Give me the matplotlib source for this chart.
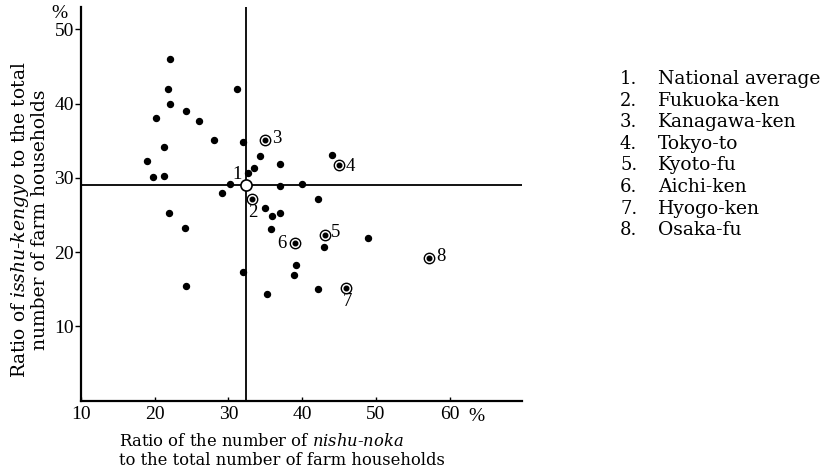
import matplotlib
matplotlib.use("Agg")
import matplotlib.pyplot as plt

plt.rcParams['font.family'] = ['DejaVu Serif']
plt.rcParams['mathtext.fontset'] = 'dejavuserif'

# unlabelled prefectures (nishu-noka %, isshu-kengyo %)
dot_x = [22.1, 21.8, 22.1, 20.2, 24.2, 26.0, 31.1, 28.0, 32.0, 21.3, 19.0, 19.8,
         21.2, 30.2, 29.1, 32.7, 33.4, 34.3, 37.0, 22.0, 44.1, 37.0, 40.0, 42.2,
         34.9, 35.9, 37.0, 35.7, 43.0, 48.9, 39.1, 38.9, 31.9, 42.1, 35.2, 24.1, 24.2]
dot_y = [46.0, 41.9, 39.9, 38.0, 39.0, 37.7, 41.9, 35.1, 34.8, 34.2, 32.2, 30.1,
         30.2, 29.2, 27.9, 30.6, 31.3, 32.9, 31.9, 25.3, 33.0, 28.9, 29.2, 27.1,
         25.9, 24.8, 25.2, 23.1, 20.7, 21.9, 18.3, 16.9, 17.3, 15.0, 14.3, 23.3, 15.4]

# numbered points
num_x = [32.35, 33.25, 35.0, 45.0, 43.05, 39.0, 46.0, 57.15]
num_y = [29.0, 27.2, 35.05, 31.75, 22.3, 21.2, 15.15, 19.25]
num_labels = ['1', '2', '3', '4', '5', '6', '7', '8']
label_offsets = [(-6, 8), (0, -10), (8, 1), (8, -1), (8, 2), (-9, 0), (1, -10), (9, 1)]
names = ['National average', 'Fukuoka-ken', 'Kanagawa-ken', 'Tokyo-to',
         'Kyoto-fu', 'Aichi-ken', 'Hyogo-ken', 'Osaka-fu']

avg_x = num_x[0]
avg_y = num_y[0]

digit_font = 'Liberation Serif'

fig = plt.figure(figsize=(8.31, 4.74), dpi=100)
ax = fig.add_axes([81 / 831, 1 - 400.5 / 474, 441 / 831, 393.5 / 474])
ax.set_xlim(10, 69.8)
ax.set_ylim(0, 53)

for s in ['top', 'right']:
    ax.spines[s].set_visible(False)
for s in ['left', 'bottom']:
    ax.spines[s].set_linewidth(1.6)

ax.axvline(avg_x, color='black', lw=1.3, zorder=1)
ax.axhline(avg_y, color='black', lw=1.3, zorder=1)

ax.plot(dot_x, dot_y, 'o', color='black', ms=4.3, zorder=3)

# ringed points
ax.plot(num_x[1:], num_y[1:], 'o', mfc='white', mec='black', mew=1.0, ms=7.5, zorder=3)
ax.plot(num_x[1:], num_y[1:], 'o', color='black', ms=3.3, zorder=4)
ax.plot(num_x[:1], num_y[:1], 'o', mfc='white', mec='black', mew=1.2, ms=8, zorder=3)

for x, y, t, off in zip(num_x, num_y, num_labels, label_offsets):
    ax.annotate(t, (x, y), xytext=off, textcoords='offset points',
                ha='center', va='center', fontsize=13.5, family=digit_font)

ax.set_xticks([10, 20, 30, 40, 50, 60])
ax.set_yticks([10, 20, 30, 40, 50])
ax.tick_params(axis='x', direction='in', length=3, width=1, labelsize=14, pad=4)
ax.tick_params(axis='y', direction='out', length=4, width=1, labelsize=14, pad=1)
for lab in ax.get_xticklabels() + ax.get_yticklabels():
    lab.set_family(digit_font)
ax.text(-0.05, 51.0, '%', fontsize=14, ha='center', va='bottom', family=digit_font,
        transform=ax.get_yaxis_transform())
ax.text(63.6, -1.0, '%', fontsize=14, ha='center', va='top', family=digit_font)

fig.text(119 / 831, 1 - 451 / 474,
         'Ratio of the number of $\\it{nishu}$-$\\it{noka}$\nto the total number of farm households',
         fontsize=11.8, ha='left', va='center', linespacing=1.1)
fig.text(29 / 831, 1 - 220 / 474,
         'Ratio of $\\it{isshu}$-$\\it{kengyo}$ to the total\nnumber of farm households',
         fontsize=13.5, rotation=90, ha='center', va='center', linespacing=1.05,
         multialignment='center')

for i, name in enumerate(names):
    yy = 1 - (79 + i * 21.6) / 474
    fig.text(620 / 831, yy, f'{i + 1}.', fontsize=13, va='center', ha='left')
    fig.text(658 / 831, yy, name, fontsize=13.5, va='center', ha='left')

fig.savefig('out.png', dpi=100)
